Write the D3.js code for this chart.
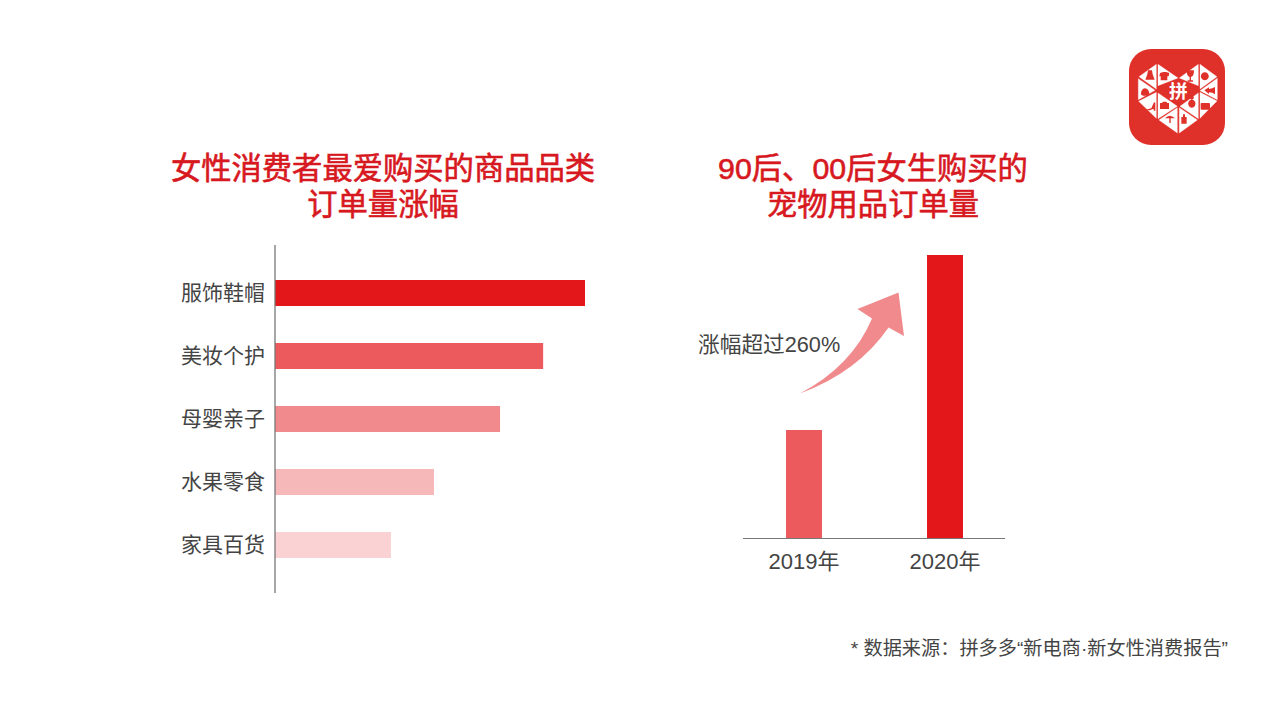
<!DOCTYPE html>
<html>

<head>
  <meta charset="utf-8">
  <title>女性消费者订单量</title>
  <script src="https://d3js.org/d3.v7.min.js"></script>
  <style>
    body {
      margin: 0;
      background-color: #fff;
    }

    svg {
      display: block;
    }

    text {
      font-family: "Liberation Sans", "Noto Sans CJK SC", sans-serif;
      fill: #444;
    }

    .title {
      font-family: "Liberation Sans", "Noto Sans CJK SC", sans-serif;
      font-size: 30.3px;
      font-weight: 400;
      fill: #d7191f;
      stroke: #d7191f;
      stroke-width: 0.6px;
      text-anchor: middle;
    }

    .axis text {
      font-size: 21px;
    }

    .yearAxis text {
      font-size: 22px;
    }
  </style>
</head>

<body>
  <div id="chart"></div>
  <script>
    // data (left chart is relative, longest bar = 100)
    var categories = ["服饰鞋帽", "美妆个护", "母婴亲子", "水果零食", "家具百货"];
    var categoryGrowth = [100, 86.5, 72.6, 51.3, 37.4];
    var years = ["2019年", "2020年"];
    var petOrders = [100, 262];

    var leftTitle = ["女性消费者最爱购买的商品品类", "订单量涨幅"];
    var rightTitle = ["90后、00后女生购买的", "宠物用品订单量"];
    var arrowLabel = "涨幅超过260%";
    var sourceNote = "* 数据来源：拼多多“新电商·新女性消费报告”";

    var barColors = ["#e3161a", "#ec5a5e", "#f08a8d", "#f7b8ba", "#fbd2d4"];
    var yearColors = ["#ec5a5e", "#e3161a"];
    var axisColor = "#777";

    var svg = d3.select("#chart")
      .append("svg")
      .attr("width", 1269)
      .attr("height", 714);

    // titles
    function addTitle(lines, x) {
      svg.selectAll(null)
        .data(lines)
        .enter()
        .append("text")
        .attr("class", "title")
        .attr("x", x)
        .attr("y", function (d, i) { return 179 + i * 36; })
        .text(function (d) { return d; });
    }
    addTitle(leftTitle, 383);
    addTitle(rightTitle, 873);

    // left chart: horizontal bars
    var x = d3.scaleLinear().domain([0, 100]).range([275, 585]);
    var y = d3.scaleBand()
      .domain(categories)
      .range([261.5, 576.5])
      .paddingInner(0.587)
      .paddingOuter(0.2935);

    svg.selectAll(".catBar")
      .data(categories)
      .enter()
      .append("rect")
      .attr("class", "catBar")
      .attr("x", x(0))
      .attr("y", function (d) { return y(d); })
      .attr("width", function (d, i) { return x(categoryGrowth[i]) - x(0); })
      .attr("height", y.bandwidth())
      .attr("fill", function (d, i) { return barColors[i]; });

    var yAxis = svg.append("g")
      .attr("class", "axis")
      .attr("transform", "translate(275,0)")
      .call(d3.axisLeft(y).tickSize(0).tickPadding(10));
    yAxis.select(".domain").remove();
    yAxis.selectAll("text").attr("font-size", null).attr("font-family", null);

    svg.append("line")
      .attr("x1", 275).attr("x2", 275)
      .attr("y1", 245).attr("y2", 593)
      .attr("stroke", axisColor)
      .attr("stroke-width", 1.3);

    // right chart: two columns
    var xYear = d3.scaleBand()
      .domain(years)
      .range([733.5, 1015.5])
      .paddingInner(0.745)
      .paddingOuter(0.3725);
    var yOrders = d3.scaleLinear().domain([0, 262]).range([538, 255]);

    svg.selectAll(".yearBar")
      .data(years)
      .enter()
      .append("rect")
      .attr("class", "yearBar")
      .attr("x", function (d) { return xYear(d); })
      .attr("y", function (d, i) { return yOrders(petOrders[i]); })
      .attr("width", xYear.bandwidth())
      .attr("height", function (d, i) { return yOrders(0) - yOrders(petOrders[i]); })
      .attr("fill", function (d, i) { return yearColors[i]; });

    var xAxis = svg.append("g")
      .attr("class", "yearAxis")
      .attr("transform", "translate(0,538)")
      .call(d3.axisBottom(xYear).tickSize(0).tickPadding(15));
    xAxis.select(".domain").remove();
    xAxis.selectAll("text").attr("font-size", null).attr("font-family", null);

    svg.append("line")
      .attr("x1", 743).attr("x2", 1005)
      .attr("y1", 538.5).attr("y2", 538.5)
      .attr("stroke", axisColor)
      .attr("stroke-width", 1.2);

    // rising arrow and its label
    svg.append("path")
      .attr("d", "M800,393.5 Q852,366 872,318.5 L857.5,309 L898.5,292.5 L904,336 L888.5,327.5 Q858,372 800,393.5 Z")
      .attr("fill", "#f08a8d");

    svg.append("text")
      .attr("x", 698)
      .attr("y", 352)
      .attr("font-size", 21.7)
      .text(arrowLabel);

    // source note
    svg.append("text")
      .attr("x", 1228)
      .attr("y", 655)
      .attr("text-anchor", "end")
      .attr("font-size", 19.2)
      .text(sourceNote);

    // logo, drawn in the coordinates of a 3x crop
    var logo = svg.append("g").attr("transform", "translate(1110,35) scale(0.3333)");
    logo.append("rect")
      .attr("x", 57).attr("y", 42)
      .attr("width", 288).attr("height", 288)
      .attr("rx", 66)
      .attr("fill", "#e0302a");

    var logoTriangles = [
      "M139,88L87,125L139,162Z",
      "M144,88L204,129L144,152Z",
      "M85,131L135,166L85,194Z",
      "M86,199L139,172L139,250Z",
      "M144,174L202,214L144,251Z",
      "M147,255L202,218L202,294Z",
      "M208,218L262,255L208,294Z",
      "M210,214L265,174L265,251Z",
      "M270,172L321,198L270,250Z",
      "M270,167L322,130L322,194Z",
      "M270,88L321,125L270,162Z",
      "M265,88L265,152L208,129Z"
    ];
    logo.selectAll(".tri")
      .data(logoTriangles)
      .enter()
      .append("path")
      .attr("class", "tri")
      .attr("d", function (d) { return d; })
      .attr("fill", "#fff")
      .attr("stroke", "#fff")
      .attr("stroke-linejoin", "round");

    // little goods inside the triangles
    var logoIcons = [
      "M114,106h12l2,12l6,16h-28l6,-16Z",
      "M150,114l10,-3h8l10,3l-2,10h-4v12h-20v-12h-4Z",
      "M93,176q0,-14 12,-16q12,2 13,16q-1,6 -13,6q-12,0 -12,-6Z",
      "M108,224l16,-4l8,-18l4,1v24h-4l-2,-6l-10,5h-12Z",
      "M150,204h6l3,-4h10l3,4h5v18h-27Z",
      "M165,250q14,-16 30,0Z M178,250h4v14h-4Z",
      "M214,246h5v-8h6v8h5v20h-16Z",
      "M245,194a6,6 0 1,1 1,0a11,12 0 1,1 -1,0Z",
      "M275,204h22q3,0 3,3v14q0,3 -3,3h-22q-3,0 -3,-3v-14q0,-3 3,-3Z",
      "M283,166l14,-9v5l10,-2l8,-4v22l-8,-5l-10,-1v5Z",
      "M285,112a12,12 0 1,1 -1,0Z",
      "M230,106h22q0,18 -9,20v10h6v4h-16v-4h6v-10q-9,-2 -9,-20Z"
    ];
    logo.selectAll(".icon")
      .data(logoIcons)
      .enter()
      .append("path")
      .attr("class", "icon")
      .attr("d", function (d) { return d; })
      .attr("fill", "#e0302a");

    logo.append("text")
      .attr("x", 205)
      .attr("y", 190)
      .attr("text-anchor", "middle")
      .attr("font-size", 56)
      .attr("font-weight", 700)
      .style("font-family", "'Noto Sans CJK SC'")
      .style("fill", "#fff")
      .text("拼");
  </script>
</body>

</html>
